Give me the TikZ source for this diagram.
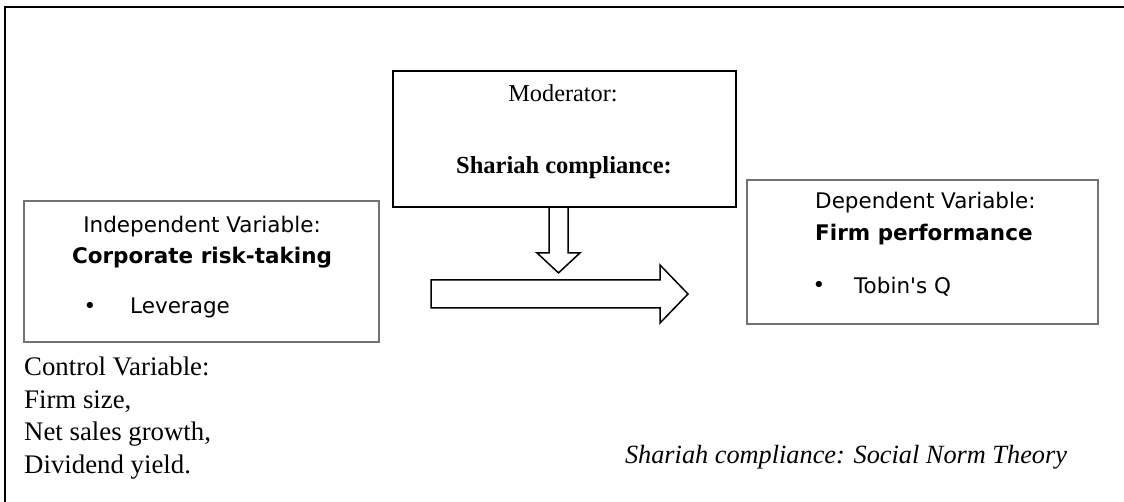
\documentclass[tikz,border=0pt]{standalone}
\usepackage{fontspec}
\setmainfont{Liberation Serif}
\setsansfont{DejaVu Sans}[Ligatures=TeXOff]
\usetikzlibrary{calc}

\begin{document}
\begin{tikzpicture}[x=1pt, y=-1pt,
  varbox/.style={draw=black!55, line width=1.3pt, minimum width=#1},
  modbox/.style={draw, line width=1.8pt},
  blockarrow/.style={draw, line width=1.5pt, line join=miter},
  sanstext/.style={font=\sffamily\fontsize{21.5}{25}\selectfont, inner sep=0pt},
  serftext/.style={font=\fontsize{24.3}{32.5}\selectfont, inner sep=0pt}]
\useasboundingbox (0,0) rectangle (1124,502);
\draw[line width=1.5pt] (5,502) -- (5,7) -- (1124,7);

\node[varbox=355pt, minimum height=141pt] (indep) at (201.5,271.5) {};
\node[modbox, minimum width=343pt, minimum height=136pt] (mod) at (564.5,139) {};
\node[varbox=351pt, minimum height=144pt] (dep) at (922.5,252) {};

\node[sanstext] (indeptitle) at (202,227) {Independent Variable:};
\node[sanstext, font=\sffamily\bfseries\fontsize{21.5}{25}\selectfont] (indepname) at (202,258) {Corporate risk-taking};
\node[sanstext] (indepdot) at (90,308) {\textbullet};
\node[sanstext, anchor=west] (indepitem) at (130,308) {Leverage};

\node[serftext] (modtitle) at (563,93) {Moderator:};
\node[serftext, font=\bfseries\fontsize{24.5}{27}\selectfont] (modname) at (564,168) {Shariah compliance:};

\node[sanstext, anchor=west] (deptitle) at (815,203) {Dependent Variable:};
\node[sanstext, anchor=west, font=\sffamily\bfseries\fontsize{21.5}{25}\selectfont] (depname) at (815,235) {Firm performance};
\node[sanstext] (depdot) at (819,287) {\textbullet};
\node[sanstext, anchor=west] (depitem) at (854,287) {Tobin's Q};

\node[serftext, font=\fontsize{26.8}{32.5}\selectfont, anchor=west, align=left] (control) at (24,418) {Control Variable:\\Firm size,\\Net sales growth,\\Dividend yield.};
\node[serftext, font=\itshape\fontsize{26.3}{30}\selectfont] (theory) at (846,457) {Shariah compliance: Social Norm Theory};

% block arrows
\draw[blockarrow] ($(mod.south)+(-15.5,0)$) -- ++(0,45) -- ++(-12,0) -- ++(21.5,20) -- ++(21.5,-20) -- ++(-12,0) -- ++(0,-45);
\coordinate (arrowstart) at (431,294);
\draw[blockarrow] ($(arrowstart)+(0,-14)$) -- ++(229,0) -- ++(0,-15) -- ++(28,29) -- ++(-28,29) -- ++(0,-15) -- ++(-229,0) -- cycle;
\end{tikzpicture}
\end{document}
